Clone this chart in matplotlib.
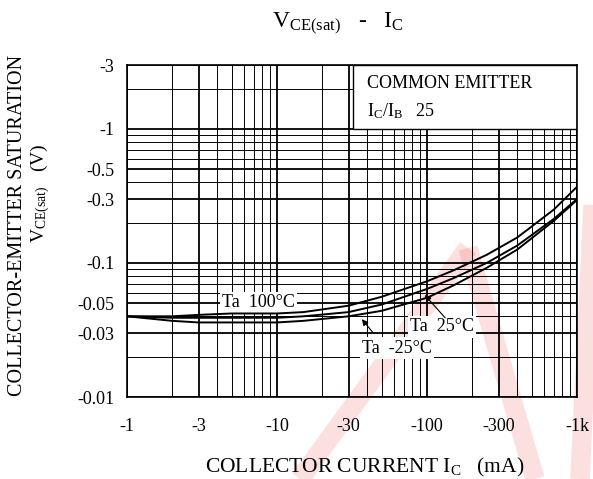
import matplotlib
matplotlib.use("Agg")
import matplotlib.pyplot as plt
from matplotlib.lines import Line2D
from matplotlib.patches import Rectangle

plt.rcParams['font.family'] = ['Liberation Serif', 'DejaVu Serif']
plt.rcParams['mathtext.fontset'] = 'custom'
plt.rcParams['mathtext.rm'] = 'Liberation Serif'
plt.rcParams['mathtext.it'] = 'Liberation Serif:italic'

# collector current (mA, magnitude)
ic = [1, 2, 3, 5, 10, 15, 30, 50, 100, 150, 250, 400, 700, 1000]
# |VCE(sat)| (V) for each ambient temperature
vce_100 = [0.040, 0.040, 0.041, 0.042, 0.042, 0.043, 0.048, 0.056, 0.073, 0.088, 0.115, 0.155, 0.25, 0.37]
vce_25 = [0.040, 0.039, 0.039, 0.039, 0.039, 0.040, 0.043, 0.049, 0.064, 0.077, 0.100, 0.135, 0.213, 0.30]
vce_m25 = [0.040, 0.037, 0.036, 0.036, 0.036, 0.037, 0.040, 0.044, 0.055, 0.068, 0.092, 0.126, 0.206, 0.295]

x_ticks = [1, 3, 10, 30, 100, 300, 1000]
x_labels = ["-1", "-3", "-10", "-30", "-100", "-300", "-1k"]
y_ticks = [0.01, 0.03, 0.05, 0.1, 0.3, 0.5, 1, 3]
y_labels = ["-0.01", "-0.03", "-0.05", "-0.1", "-0.3", "-0.5", "-1", "-3"]

fig = plt.figure(figsize=(5.93, 4.79), dpi=100)

# faint red watermark behind the chart
wm = [((300, 479), (468, 248)), ((468, 248), (535, 479)), ((593, 205), (580, 479))]
for (x0, y0), (x1, y1) in wm:
    fig.add_artist(Line2D([x0 / 593, x1 / 593], [1 - y0 / 479, 1 - y1 / 479],
                          transform=fig.transFigure, color='#f03030', alpha=0.15,
                          lw=14, solid_capstyle='butt', zorder=-5))

ax = fig.add_axes([127 / 593, 1 - 397 / 479, 450 / 593, 332 / 479])
ax.set_facecolor('none')
ax.set_xscale('log')
ax.set_yscale('log')
ax.set_xlim(1, 1000)
ax.set_ylim(0.01, 3)

ax.grid(True, which='major', color='black', lw=1.3)
ax.grid(True, which='minor', color='black', lw=0.7)
ax.set_axisbelow(True)

ax.set_xticks(x_ticks)
ax.set_xticklabels(x_labels)
ax.set_yticks(y_ticks)
ax.set_yticklabels(y_labels)
ax.tick_params(which='both', length=0, labelsize=13)
ax.tick_params(axis='x', pad=15)
ax.tick_params(axis='y', pad=9)
for s in ax.spines.values():
    s.set_linewidth(1.2)

# condition box in the top right corner
ax.add_patch(Rectangle((32, 1.0), 1000 - 32, 2.0, facecolor='white', edgecolor='black',
                       lw=1.0, zorder=1.5))
ax.text(40, 2.2, "COMMON EMITTER", fontsize=13, va='center', zorder=3)
ax.text(40, 1.36, r"$\mathregular{I_C/I_B}$   25", fontsize=13, va='center', zorder=3)

ax.plot(ic, vce_100, color='black', lw=1.4, zorder=4)
ax.plot(ic, vce_25, color='black', lw=1.4, zorder=4)
ax.plot(ic, vce_m25, color='black', lw=1.4, zorder=4)

box = dict(facecolor='white', edgecolor='none', pad=1.5)
ax.text(4.3, 0.0503, "Ta  100°C", fontsize=13, va='center', bbox=box, zorder=3)
ax.text(77, 0.0333, "Ta  25°C", fontsize=13, va='center', bbox=box, zorder=3)
ax.text(37, 0.0232, "Ta  -25°C", fontsize=13, va='center', bbox=box, zorder=3)

arrow = dict(arrowstyle='-|>', color='black', lw=0.8, mutation_scale=9)
ax.annotate("", xy=(94, 0.0597), xytext=(136, 0.0376), arrowprops=arrow, zorder=5)
ax.annotate("", xy=(35.8, 0.0395), xytext=(45, 0.029), arrowprops=arrow, zorder=5)

fig.text(338 / 593, 1 - 24 / 479, r"$\mathregular{V_{CE(sat)}}$   -   $\mathregular{I_C}$",
         fontsize=17, ha='center', va='center')
fig.text(365 / 593, 1 - 467 / 479, r"COLLECTOR CURRENT $\mathregular{I_C}$   (mA)",
         fontsize=15.5, ha='center', va='center')
fig.text(18 / 593, 1 - 225 / 479, "COLLECTOR-EMITTER SATURATION",
         fontsize=14.5, ha='center', va='center', rotation=90)
fig.text(40 / 593, 1 - 193 / 479, r"$\mathregular{V_{CE(sat)}}$   (V)",
         fontsize=14, ha='center', va='center', rotation=90)

fig.savefig("out.png", dpi=100)
